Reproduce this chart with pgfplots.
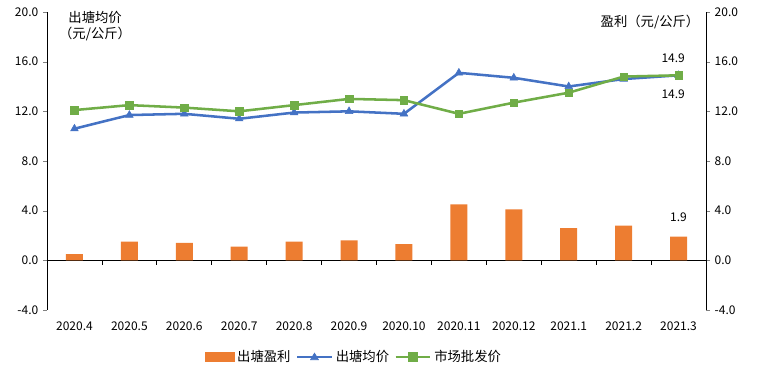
\documentclass[border=0pt]{standalone}
\usepackage{pgfplots}
\pgfplotsset{compat=1.18}
\usepackage{fontspec}
\setmainfont{Noto Sans CJK SC}
\usetikzlibrary{calc}
\definecolor{cOr}{HTML}{ED7D31}
\definecolor{cBl}{HTML}{4472C4}
\definecolor{cGr}{HTML}{70AD47}
\begin{document}
\begin{tikzpicture}
\begin{axis}[
  scale only axis, width=494.25pt, height=223.5pt,
  xmin=-0.5, xmax=11.5, ymin=-4, ymax=20,
  ytick={-4,0,4,8,12,16,20},
  /pgf/number format/.cd, fixed, fixed zerofill, precision=1, assume math mode=true,
  /pgfplots/.cd,
  axis y line*=left, axis x line*=bottom,
  x axis line style={draw=none},
  xtick={0,...,11},
  xticklabels={2020.4,2020.5,2020.6,2020.7,2020.8,2020.9,2020.10,2020.11,2020.12,2021.1,2021.2,2021.3},
  xtick style={draw=none},
  ytick align=outside, major tick length=3pt,
  tick label style={font=\fontsize{9}{10}\selectfont},
  xticklabel style={yshift=-5pt},
  legend style={at={(0.466,-0.158)}, anchor=center, legend columns=3, draw=none,
    font=\fontsize{10}{12}\selectfont,
    /tikz/every even column/.append style={column sep=2pt}},
  legend cell align=left,
  clip=false,
]
\coordinate (bl) at (rel axis cs:0,0);
\coordinate (tr) at (rel axis cs:1,1);
\addplot[black, line width=0.6pt, forget plot] coordinates {(-0.5,0) (11.5,0)};
\addplot[ycomb, black, line width=0.6pt, forget plot, mark=none] coordinates {(0.5,-0.4) (1.5,-0.4) (2.5,-0.4) (3.5,-0.4) (4.5,-0.4) (5.5,-0.4) (6.5,-0.4) (7.5,-0.4) (8.5,-0.4) (9.5,-0.4) (10.5,-0.4)};
\addplot[ybar, bar width=12.75pt, fill=cOr, draw=none,
  legend image code/.code={\fill[cOr] (0pt,-3.75pt) rectangle (22.5pt,3.75pt);}]
  coordinates {(0,0.5) (1,1.5) (2,1.4) (3,1.1) (4,1.5) (5,1.6) (6,1.3) (7,4.5) (8,4.1) (9,2.6) (10,2.8) (11,1.9)};
\addlegendentry{出塘盈利}
\addplot[cBl, line width=1.9pt, mark=triangle*, mark size=3.3pt, mark options={line width=0.4pt},
  legend image code/.code={\draw[line width=1.9pt] (0pt,0pt) -- (26pt,0pt); \fill (13pt,0pt) node[inner sep=0pt, minimum size=0pt]{} ++(0,0) circle (0pt); \draw[line width=0.4pt, fill] (13pt,3pt) -- (10pt,-2pt) -- (16pt,-2pt) -- cycle;}]
  coordinates {(0,10.6) (1,11.7) (2,11.8) (3,11.4) (4,11.9) (5,12.0) (6,11.8) (7,15.1) (8,14.7) (9,14.0) (10,14.6) (11,14.9)};
\addlegendentry{出塘均价}
\addplot[cGr, line width=1.9pt, mark=square*, mark size=2.8pt, mark options={line width=0.4pt},
  legend image code/.code={\draw[line width=1.9pt] (0pt,0pt) -- (26pt,0pt); \fill (10.5pt,-2.5pt) rectangle (15.5pt,2.5pt);}]
  coordinates {(0,12.1) (1,12.5) (2,12.3) (3,12.0) (4,12.5) (5,13.0) (6,12.9) (7,11.8) (8,12.7) (9,13.5) (10,14.8) (11,14.9)};
\addlegendentry{市场批发价}
\node[font=\fontsize{9}{10}\selectfont] at (axis cs:11,14.9) [xshift=-4pt, yshift=13pt] {14.9};
\node[font=\fontsize{9}{10}\selectfont] at (axis cs:11,14.9) [xshift=-4pt, yshift=-14pt] {14.9};
\node[font=\fontsize{9}{10}\selectfont] at (axis cs:11,1.9) [yshift=15pt] {1.9};
\node[align=center, font=\fontsize{10}{12}\selectfont] at (rel axis cs:0.073,0.953) {出塘均价\\（元/公斤）};
\node[font=\fontsize{10}{12}\selectfont] at (rel axis cs:0.915,0.966) {盈利（元/公斤）};
\end{axis}
\begin{axis}[
  scale only axis, width=494.25pt, height=223.5pt,
  xmin=-0.5, xmax=11.5, ymin=-4, ymax=20,
  ytick={-4,0,4,8,12,16,20},
  /pgf/number format/.cd, fixed, fixed zerofill, precision=1, assume math mode=true,
  /pgfplots/.cd,
  axis y line*=right, axis x line=none,
  ytick align=outside, major tick length=3pt,
  tick label style={font=\fontsize{9}{10}\selectfont},
]
\addplot[draw=none, forget plot] coordinates {(0,0)};
\end{axis}
\pgfresetboundingbox
\path ($(bl)+(-35.25pt,-49.5pt)$) rectangle ($(tr)+(45pt,9pt)$);
\end{tikzpicture}
\end{document}
